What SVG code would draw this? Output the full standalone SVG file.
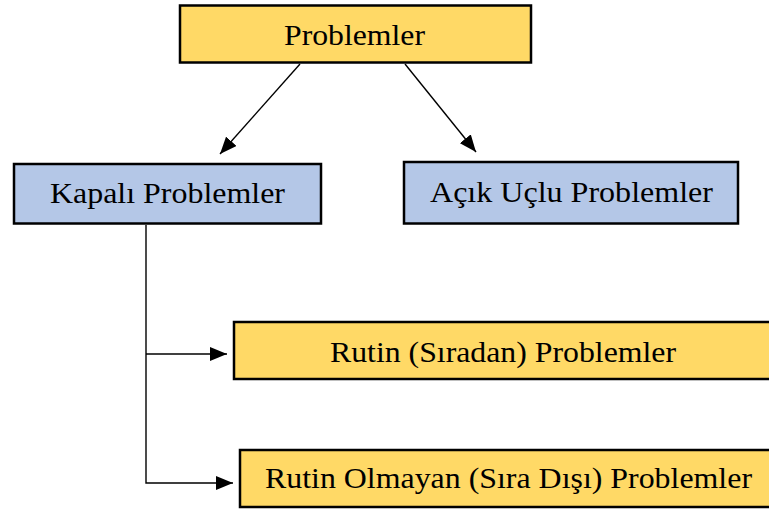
<svg xmlns="http://www.w3.org/2000/svg" width="769" height="511" viewBox="0 0 769 511">
<style>
.box{stroke:#000;stroke-width:2.5}
.y{fill:#FFD966}
.b{fill:#B4C7E7}
.t{font-family:"Liberation Serif","Times New Roman",serif;font-size:30px;fill:#000}
.c{fill:none;stroke:#000;stroke-width:1.4}
</style>
<defs>
<marker id="ah2" viewBox="0 0 17 14" refX="17" refY="7" markerWidth="17" markerHeight="14" markerUnits="userSpaceOnUse" orient="auto">
<path d="M0,0 L17,7 L0,14 z" fill="#000"/>
</marker>
</defs>
<rect width="769" height="511" fill="#fff"/>
<g id="connectors">
<line class="c" x1="300" y1="64" x2="220" y2="154" marker-end="url(#ah2)"/>
<line class="c" x1="405" y1="64" x2="476" y2="152" marker-end="url(#ah2)"/>
<polyline class="c" points="146,225 146,483 233,483" marker-end="url(#ah2)"/>
<line class="c" x1="146" y1="354" x2="227" y2="354" marker-end="url(#ah2)"/>
</g>
<g id="problemler">
<rect class="box y" x="180" y="5.5" width="351" height="57" stroke-width="3"/>
<text class="t" x="284" y="45" textLength="141" lengthAdjust="spacingAndGlyphs">Problemler</text>
</g>
<g id="kapali">
<rect class="box b" x="14" y="164" width="307" height="59.5"/>
<text class="t" x="50" y="203" textLength="235" lengthAdjust="spacingAndGlyphs">Kapalı Problemler</text>
</g>
<g id="acik">
<rect class="box b" x="404" y="162" width="334" height="61.5"/>
<text class="t" x="430" y="202" textLength="283" lengthAdjust="spacingAndGlyphs">Açık Uçlu Problemler</text>
</g>
<g id="rutin">
<rect class="box y" x="234" y="322" width="540" height="57"/>
<text class="t" x="330" y="362" textLength="346" lengthAdjust="spacingAndGlyphs">Rutin (Sıradan) Problemler</text>
</g>
<g id="rutin-olmayan">
<rect class="box y" x="240" y="450" width="534" height="57"/>
<text class="t" x="265" y="488" textLength="487" lengthAdjust="spacingAndGlyphs">Rutin Olmayan (Sıra Dışı) Problemler</text>
</g>
</svg>
